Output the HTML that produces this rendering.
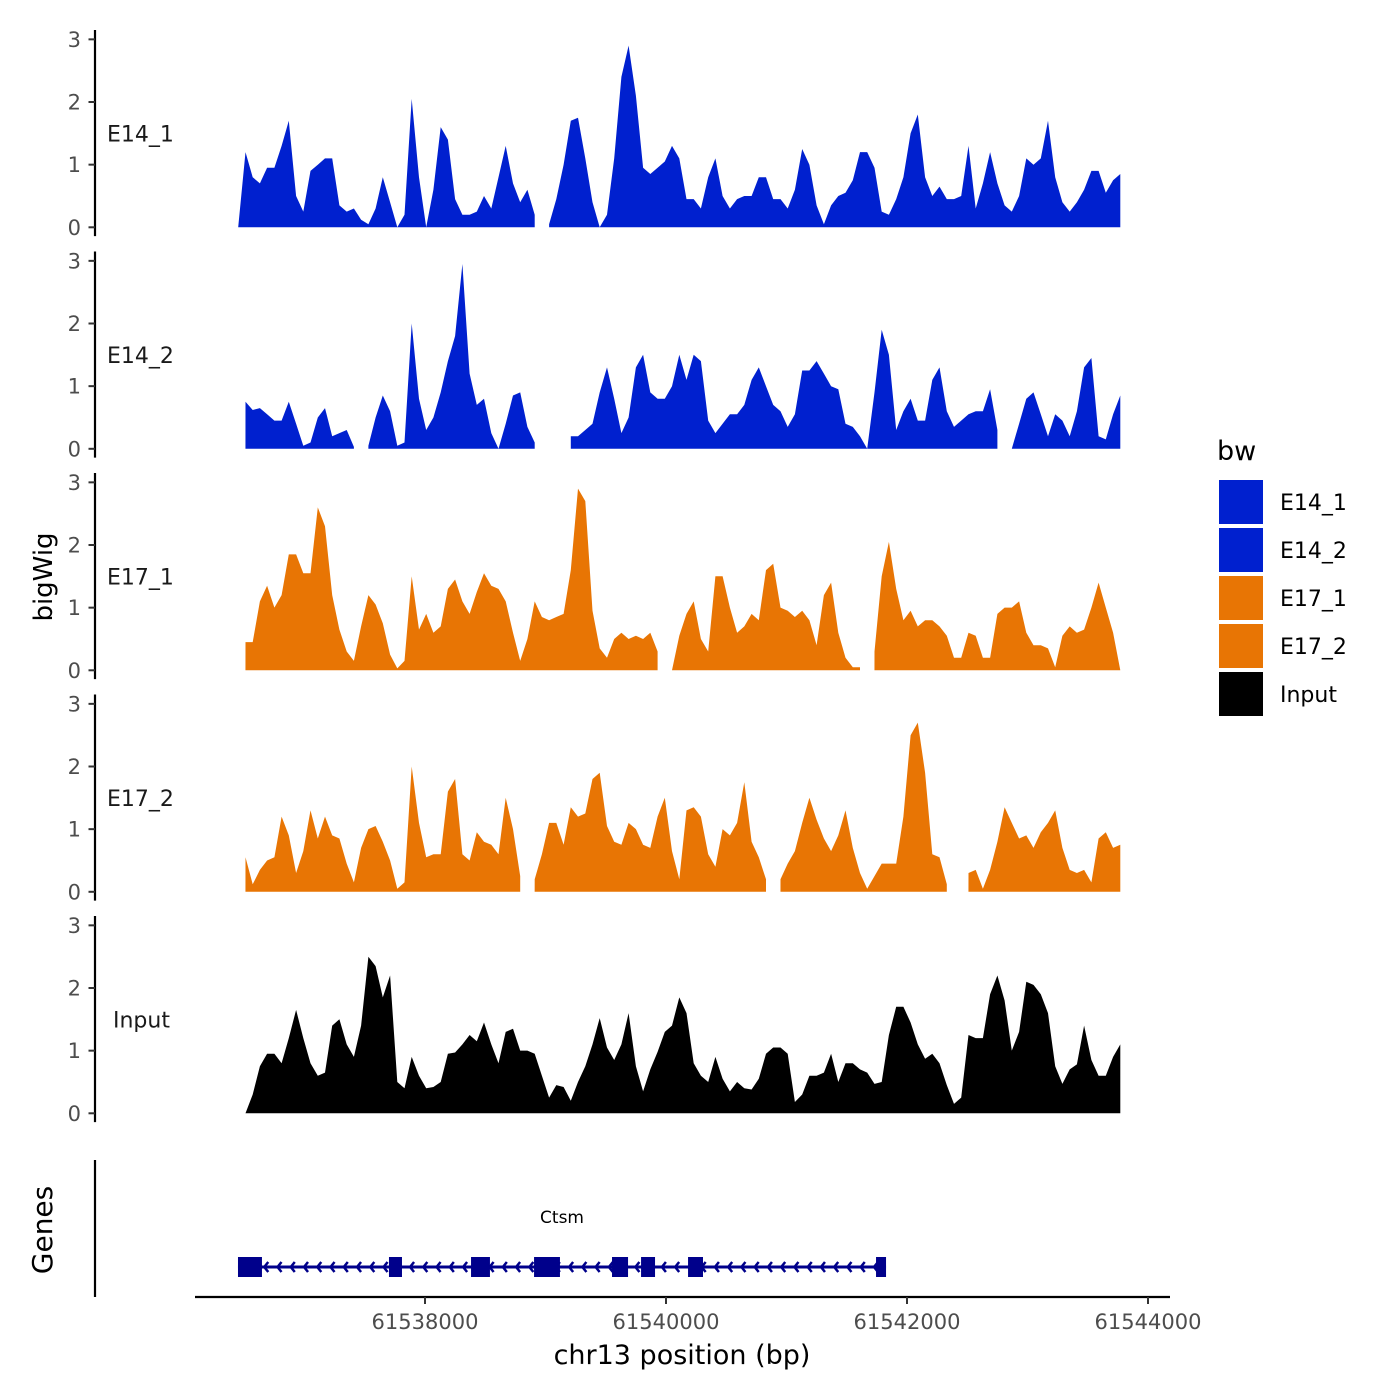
<!DOCTYPE html>
<html><head><meta charset="utf-8"><style>
html,body{margin:0;padding:0;background:#fff;}
svg{display:block;font-family:"DejaVu Sans","Liberation Sans",sans-serif;}
</style></head><body>
<svg id="chart" width="1400" height="1400" viewBox="0 0 1400 1400">
<g id="tracks"></g>
<g id="genes"></g>
<g id="xaxis"></g>
<text x="682" y="1364" font-size="27" text-anchor="middle">chr13 position (bp)</text>
<text transform="translate(52,577) rotate(-90)" font-size="26" text-anchor="middle">bigWig</text>
<text transform="translate(52,1230) rotate(-90)" font-size="28" text-anchor="middle">Genes</text>
<g id="legend"></g>
</svg>
<script>
const binStart = 61536450;
const binSize = 60;
const trackNames = ["E14_1","E14_2","E17_1","E17_2","Input"];
const trackColors = ["#0020CF","#0020CF","#E87504","#E87504","#000000"];
const yTicks = [0,1,2,3];
const xTicks = [61538000,61540000,61542000,61544000];
const xTickLabels = ["61538000","61540000","61542000","61544000"];
const e14_1 = [0,1.2,0.8,0.7,0.95,0.95,1.3,1.7,0.5,0.25,0.9,1.0,1.1,1.1,0.35,0.25,0.3,0.12,0.05,0.3,0.8,0.4,0,0.2,2.05,0.8,0,0.6,1.6,1.4,0.45,0.2,0.2,0.25,0.5,0.3,0.8,1.3,0.7,0.4,0.6,0.2,null,0.05,0.45,1.0,1.7,1.75,1.1,0.4,0,0.2,1.1,2.4,2.9,2.1,0.95,0.85,0.95,1.05,1.3,1.1,0.45,0.45,0.3,0.8,1.1,0.5,0.3,0.45,0.5,0.5,0.8,0.8,0.45,0.45,0.3,0.6,1.25,1.0,0.35,0.05,0.35,0.5,0.55,0.75,1.2,1.2,0.95,0.25,0.2,0.45,0.8,1.5,1.8,0.8,0.5,0.65,0.45,0.45,0.5,1.3,0.3,0.7,1.2,0.7,0.35,0.25,0.5,1.1,1.0,1.1,1.7,0.8,0.4,0.25,0.4,0.6,0.9,0.9,0.55,0.75,0.85];
const e14_2 = [null,0.75,0.62,0.65,0.55,0.45,0.45,0.75,0.4,0.05,0.1,0.5,0.65,0.2,0.25,0.3,0.03,null,0.05,0.5,0.85,0.6,0.05,0.1,2.0,0.8,0.3,0.5,0.9,1.4,1.8,2.95,1.2,0.7,0.8,0.25,0,0.4,0.85,0.9,0.35,0.1,null,null,null,null,0.2,0.2,0.3,0.4,0.9,1.3,0.8,0.25,0.5,1.3,1.5,0.9,0.8,0.8,1.0,1.5,1.1,1.5,1.4,0.45,0.25,0.4,0.55,0.55,0.7,1.1,1.3,1.0,0.7,0.6,0.35,0.55,1.25,1.25,1.4,1.2,1.0,0.95,0.4,0.35,0.2,0,0.9,1.9,1.5,0.3,0.6,0.8,0.45,0.45,1.1,1.3,0.6,0.35,0.45,0.55,0.6,0.6,0.95,0.3,null,0,0.4,0.8,0.9,0.55,0.2,0.55,0.45,0.2,0.6,1.3,1.45,0.2,0.15,0.55,0.85];
const e17_1 = [null,0.45,0.45,1.1,1.35,1.0,1.2,1.85,1.85,1.55,1.55,2.6,2.3,1.2,0.65,0.3,0.15,0.7,1.2,1.05,0.75,0.25,0.03,0.15,1.5,0.65,0.9,0.6,0.7,1.3,1.45,1.1,0.9,1.25,1.55,1.35,1.3,1.1,0.6,0.15,0.5,1.1,0.85,0.8,0.85,0.9,1.6,2.9,2.7,0.95,0.35,0.2,0.5,0.6,0.5,0.55,0.5,0.6,0.3,null,0,0.55,0.9,1.1,0.5,0.3,1.5,1.5,1.0,0.6,0.7,0.9,0.8,1.6,1.7,1.0,0.95,0.85,0.95,0.8,0.4,1.2,1.4,0.6,0.2,0.05,0.05,null,0.3,1.5,2.05,1.3,0.8,0.95,0.7,0.8,0.8,0.7,0.55,0.2,0.2,0.6,0.55,0.2,0.2,0.9,1.0,1.0,1.1,0.6,0.4,0.4,0.35,0.05,0.55,0.7,0.6,0.65,1.0,1.4,1.0,0.6,0];
const e17_2 = [null,0.55,0.12,0.35,0.5,0.55,1.2,0.9,0.3,0.65,1.3,0.85,1.2,0.9,0.85,0.45,0.15,0.7,1.0,1.05,0.8,0.5,0.05,0.15,2.0,1.1,0.55,0.6,0.6,1.6,1.8,0.6,0.5,0.95,0.8,0.75,0.6,1.5,1.0,0.25,null,0.2,0.6,1.1,1.1,0.75,1.35,1.2,1.25,1.8,1.9,1.05,0.8,0.75,1.1,1.0,0.75,0.7,1.2,1.5,0.65,0.2,1.3,1.35,1.2,0.6,0.4,1.0,0.9,1.1,1.75,0.8,0.55,0.2,null,0.2,0.45,0.65,1.1,1.5,1.15,0.85,0.65,0.9,1.3,0.7,0.3,0.05,0.25,0.45,0.45,0.45,1.2,2.5,2.7,1.9,0.6,0.55,0.12,null,null,0.3,0.35,0.05,0.35,0.8,1.35,1.1,0.85,0.9,0.7,0.95,1.1,1.3,0.7,0.35,0.3,0.35,0.15,0.85,0.95,0.7,0.75];
const input = [null,0,0.3,0.75,0.95,0.95,0.8,1.2,1.65,1.2,0.8,0.6,0.65,1.4,1.5,1.1,0.9,1.4,2.5,2.35,1.85,2.2,0.5,0.4,0.9,0.6,0.4,0.42,0.5,0.95,0.97,1.1,1.25,1.15,1.45,1.1,0.8,1.3,1.35,1.0,1.0,0.95,0.6,0.25,0.45,0.42,0.2,0.5,0.75,1.1,1.52,1.05,0.85,1.1,1.6,0.75,0.35,0.7,0.98,1.3,1.4,1.85,1.6,0.8,0.6,0.5,0.9,0.55,0.35,0.5,0.4,0.38,0.55,0.95,1.05,1.05,0.95,0.18,0.3,0.6,0.6,0.65,0.95,0.5,0.8,0.8,0.7,0.65,0.47,0.5,1.25,1.7,1.7,1.45,1.1,0.87,0.95,0.8,0.45,0.15,0.25,1.25,1.2,1.2,1.9,2.2,1.8,1.0,1.3,2.1,2.05,1.9,1.6,0.75,0.47,0.7,0.78,1.4,0.85,0.6,0.6,0.9,1.1];
const trackValues = [e14_1,e14_2,e17_1,e17_2,input];
const geneName = "Ctsm";
const geneStart = 61536448;
const geneEnd = 61541826;
const exonStarts = [61536448,61537701,61538382,61538905,61539552,61539793,61540183,61541743];
const exonEnds = [61536647,61537809,61538539,61539120,61539685,61539909,61540307,61541826];

const NS="http://www.w3.org/2000/svg";
function mk(tag,attrs,parent){const e=document.createElementNS(NS,tag);for(const k in attrs)e.setAttribute(k,attrs[k]);parent.appendChild(e);return e;}
const X0=425, XPB=241/2000;
function xs(bp){return X0+(bp-61538000)*XPB;}
const BASE0=227.3, PANEL=221.5, YPU=62.65;
function ys(v,p){return BASE0+p*PANEL - v*YPU;}

const tracks=document.getElementById('tracks');
trackValues.forEach((vals,p)=>{
  const g=mk('g',{},tracks);
  
  
  const top=ys(3.15,p), bot=ys(-0.14,p);
  const ax=mk('line',{x1:95,x2:95,y1:top,y2:bot,stroke:'#000','stroke-width':2.2},g);
  
  
  yTicks.forEach(t=>{
    const tk=mk('line',{x1:88.5,x2:95,y1:ys(t,p),y2:ys(t,p),stroke:'#333','stroke-width':2},g);
    
    
    const tl=mk('text',{x:81,y:ys(t,p)+7.5,'font-size':21,'text-anchor':'end',fill:'#4d4d4d'},g);
    tl.textContent=t;
    
    
  });
  const lab=mk('text',{x:trackNames[p]==='Input'?113:107,y:ys(1.5,p)+8,'font-size':22,fill:'#1a1a1a'},g);
  lab.textContent=trackNames[p];
  
  
  let run=[];
  const flush=()=>{
    if(run.length>0){
      const b=ys(0,p);
      let d='M'+run[0][0]+','+b;
      run.forEach(q=>{d+=' L'+q[0].toFixed(1)+','+q[1].toFixed(1);});
      d+=' L'+run[run.length-1][0].toFixed(1)+','+b+' Z';
      const a=mk('path',{d:d,fill:trackColors[p]},g);
      
      
    }
    run=[];
  };
  vals.forEach((v,i)=>{
    if(v===null){flush();return;}
    run.push([xs(binStart+i*binSize),ys(v,p)]);
  });
  flush();
});

const gg=document.getElementById('genes');
const gax=mk('line',{x1:95,x2:95,y1:1160,y2:1297,stroke:'#000','stroke-width':2.2},gg);


const GY=1267;
const gl=mk('line',{x1:xs(geneStart),x2:xs(geneEnd),y1:GY,y2:GY,stroke:'#00008B','stroke-width':3},gg);


for(let bp=geneEnd-100;bp>geneStart+150;bp-=110){
  const x=xs(bp);
  const ar=mk('path',{d:`M${x+4},${GY-5} L${x},${GY} L${x+4},${GY+5}`,fill:'none',stroke:'#00008B','stroke-width':2.5},gg);
  
  
}
exonStarts.forEach((s,i)=>{
  const r=mk('rect',{x:xs(s),y:GY-10,width:xs(exonEnds[i])-xs(s),height:20,fill:'#00008B'},gg);
  
  
});
const gn=mk('text',{x:xs((geneStart+geneEnd)/2),y:1223,'font-size':17,'text-anchor':'middle',fill:'#000'},gg);
gn.textContent=geneName;



const xa=document.getElementById('xaxis');
const xl=mk('line',{x1:195,x2:1170,y1:1297,y2:1297,stroke:'#000','stroke-width':2.2},xa);


xTicks.forEach((t,i)=>{
  const tk=mk('line',{x1:xs(t),x2:xs(t),y1:1297,y2:1304,stroke:'#333','stroke-width':2},xa);
  
  
  const tl=mk('text',{x:xs(t),y:1329,'font-size':21,'text-anchor':'middle',fill:'#4d4d4d'},xa);
  tl.textContent=xTickLabels[i];
  
  
});

const lg=document.getElementById('legend');
const lt=mk('text',{x:1217,y:460,'font-size':27,fill:'#000'},lg);
lt.textContent='bw';


trackNames.forEach((n,i)=>{
  const y=480+i*48;
  const r=mk('rect',{x:1219,y:y,width:44,height:44,fill:trackColors[i]},lg);
  
  
  const t=mk('text',{x:1280,y:y+30,'font-size':22,fill:'#000'},lg);
  t.textContent=n;
  
  
});
</script>
</body></html>
